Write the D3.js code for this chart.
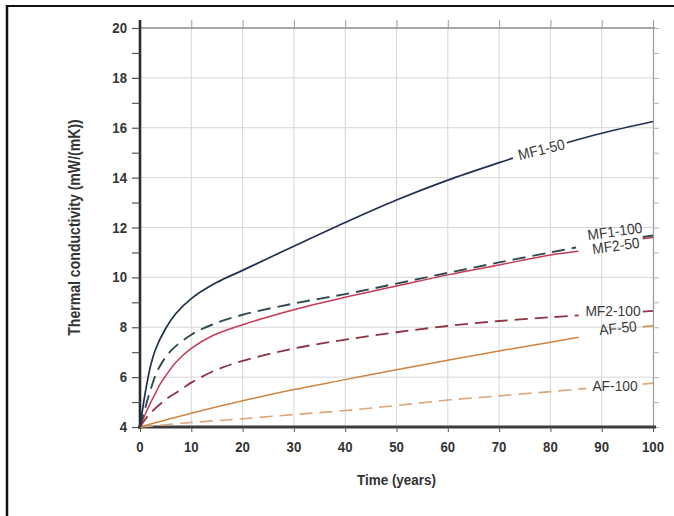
<!DOCTYPE html>
<html>
<head>
<meta charset="utf-8">
<script src="https://cdn.jsdelivr.net/npm/d3@7"></script>
<style>
  body { margin: 0; background: #fff; }
  svg { display: block; }
  .tick-lbl { font-family: "Liberation Sans", Arial, sans-serif; font-weight: bold; fill: #333; }
  .ser-lbl { font-family: "Liberation Sans", Arial, sans-serif; fill: #3a3a3a; }
</style>
</head>
<body>
<svg id="chart" width="674" height="516"></svg>
<script>
// series, [time, value]; null = gap where a label sits
const MF1_50  = [[0,4],[0.5,4.7],[1,5.35],[2,6.4],[3,7.1],[5,7.95],[7,8.55],[10,9.15],[15,9.8],[20,10.28],[30,11.25],[40,12.2],[50,13.1],[60,13.9],[70,14.6],[72.7,14.78],null,[83.2,15.4],[90,15.78],[100,16.25]];
const MF1_100 = [[0,4],[1,4.75],[2,5.45],[3.5,6.3],[6,7.05],[10,7.7],[14,8.1],[20,8.5],[30,8.95],[40,9.33],[50,9.75],[60,10.18],[70,10.6],[80,11.0],[85,11.2],null,[98,11.62],[100,11.68]];
const MF2_50  = [[0,4],[1,4.5],[2,4.95],[3,5.35],[4,5.75],[5,6.05],[7,6.6],[10,7.15],[14,7.65],[20,8.1],[30,8.7],[40,9.2],[50,9.65],[60,10.1],[70,10.5],[80,10.9],[85.5,11.05],null,[98,11.55],[100,11.6]];
const MF2_100 = [[0,4],[1,4.3],[2,4.55],[5,5.1],[8,5.5],[10,5.78],[15,6.3],[20,6.65],[30,7.15],[40,7.5],[50,7.8],[60,8.05],[70,8.25],[80,8.4],[85.5,8.48],null,[98,8.63],[100,8.66]];
const AF_50   = [[0,4],[10,4.55],[20,5.05],[30,5.5],[40,5.9],[50,6.3],[60,6.68],[70,7.05],[80,7.4],[85.5,7.6],null,[98,8.02],[100,8.06]];
const AF_100  = [[0,4],[10,4.18],[20,4.33],[30,4.5],[40,4.66],[50,4.86],[60,5.08],[70,5.25],[80,5.42],[87,5.55],null,[98,5.72],[100,5.76]];

const xTicks = [0,10,20,30,40,50,60,70,80,90,100];
const yTicks = [4,6,8,10,12,14,16,18,20];

// label text with its anchor in data units and tilt
const labels = [
  ["MF1-50", 78.3, 15.08, -14],
  ["MF1-100", 92.6, 11.8, -8],
  ["MF2-50", 92.8, 11.22, -8],
  ["MF2-100", 92.2, 8.6, 0],
  ["AF-50", 93.2, 7.92, -6],
  ["AF-100", 92.6, 5.62, 0]
];

const svg = d3.select("#chart");
svg.append("rect").attr("width", 674).attr("height", 516).attr("fill", "#fff");

// frame lines at top and left
svg.append("line").attr("x1", 6).attr("x2", 674).attr("y1", 6).attr("y2", 6).attr("stroke", "#111").attr("stroke-width", 2);
svg.append("line").attr("x1", 7).attr("x2", 7).attr("y1", 5).attr("y2", 516).attr("stroke", "#111").attr("stroke-width", 2.5);

const x = d3.scaleLinear().domain([0, 100]).range([140, 653]);
const y = d3.scaleLinear().domain([4, 20]).range([427, 28]);

// grid
const grid = svg.append("g");
grid.selectAll(".gx").data(xTicks.slice(1, -1)).join("line")
  .attr("x1", d => x(d)).attr("x2", d => x(d))
  .attr("y1", y(20)).attr("y2", y(4))
  .attr("stroke", "#d6d6d6").attr("stroke-width", 1);
grid.selectAll(".gy").data(yTicks.slice(1, -1)).join("line")
  .attr("x1", x(0)).attr("x2", x(100))
  .attr("y1", d => y(d)).attr("y2", d => y(d))
  .attr("stroke", "#d6d6d6").attr("stroke-width", 1);
svg.append("line").attr("x1", x(0)).attr("x2", x(100) + 2).attr("y1", y(20)).attr("y2", y(20))
  .attr("stroke", "#8a8a8a").attr("stroke-width", 1.6);

// top ticks
svg.append("g").attr("transform", `translate(0,${y(20)})`)
  .call(d3.axisTop(x).tickValues(xTicks).tickSize(8).tickFormat(""))
  .call(g => g.select(".domain").remove())
  .selectAll("line").attr("stroke", "#9a9a9a");

// right axis
svg.append("g").attr("transform", `translate(${x(100)},0)`)
  .call(d3.axisRight(y).ticks(16).tickSize(6).tickFormat(""))
  .call(g => g.select(".domain").attr("stroke", "#9a9a9a").attr("stroke-width", 1.2))
  .selectAll("line").attr("stroke", "#b0b0b0");

// left axis
const yAx = svg.append("g").attr("transform", `translate(${x(0)},0)`)
  .call(d3.axisLeft(y).ticks(16).tickSize(8).tickFormat(""));
yAx.select(".domain").attr("d", `M0,${y(20) - 8}V${y(4) + 2}`).attr("stroke", "#2a2a2a").attr("stroke-width", 2.6);
yAx.selectAll("line").attr("stroke", "#555").attr("stroke-width", 1.2);

svg.append("g").selectAll("text").data(yTicks).join("text")
  .attr("class", "tick-lbl")
  .attr("transform", d => `translate(${x(0) - 13},${y(d) + 5}) scale(0.88,1)`)
  .attr("text-anchor", "end").attr("font-size", 15)
  .text(d => d);

// bottom axis
const xAx = svg.append("g").attr("transform", `translate(0,${y(4)})`)
  .call(d3.axisBottom(x).tickValues(xTicks).tickSize(5).tickFormat(""));
xAx.select(".domain").attr("d", `M${x(0) - 2},0H${x(100) + 3}`).attr("stroke", "#3a3a3a").attr("stroke-width", 3);
xAx.selectAll("line").attr("stroke", "#555");

svg.append("g").selectAll("text").data(xTicks).join("text")
  .attr("class", "tick-lbl")
  .attr("transform", d => `translate(${x(d)},${y(4) + 25}) scale(0.88,1)`)
  .attr("text-anchor", "middle").attr("font-size", 15)
  .text(d => d);

svg.append("text").attr("class", "tick-lbl")
  .attr("transform", `translate(${x(50)},485) scale(0.9,1)`)
  .attr("text-anchor", "middle").attr("font-size", 15)
  .text("Time (years)");

svg.append("text").attr("class", "tick-lbl")
  .attr("transform", `translate(80,${(y(20) + y(4)) / 2}) rotate(-90) scale(0.88,1)`)
  .attr("text-anchor", "middle").attr("font-size", 16)
  .text("Thermal conductivity (mW/(mK))");

// curves
const line = d3.line()
  .defined(d => d != null)
  .x(d => x(d[0]))
  .y(d => y(d[1]))
  .curve(d3.curveCatmullRom.alpha(0.5));

const series = [
  { data: AF_100, color: "#dba678", dash: "13,7", w: 1.6 },
  { data: AF_50, color: "#cf8540", dash: null, w: 1.5 },
  { data: MF2_100, color: "#8f3344", dash: "13,7", w: 1.8 },
  { data: MF2_50, color: "#c73a57", dash: null, w: 1.5 },
  { data: MF1_100, color: "#2f4a50", dash: "13,7", w: 1.9 },
  { data: MF1_50, color: "#1e2f4f", dash: null, w: 1.7 }
];

svg.append("g").selectAll("path").data(series).join("path")
  .attr("d", d => line(d.data))
  .attr("fill", "none")
  .attr("stroke", d => d.color)
  .attr("stroke-width", d => d.w)
  .attr("stroke-dasharray", d => d.dash);

// inline labels
svg.append("g").selectAll("text").data(labels).join("text")
  .attr("class", "ser-lbl")
  .attr("transform", d => `translate(${x(d[1])},${y(d[2])}) rotate(${d[3]}) scale(0.92,1)`)
  .attr("text-anchor", "middle").attr("dominant-baseline", "middle")
  .attr("font-size", 15)
  .text(d => d[0]);
</script>
</body>
</html>
